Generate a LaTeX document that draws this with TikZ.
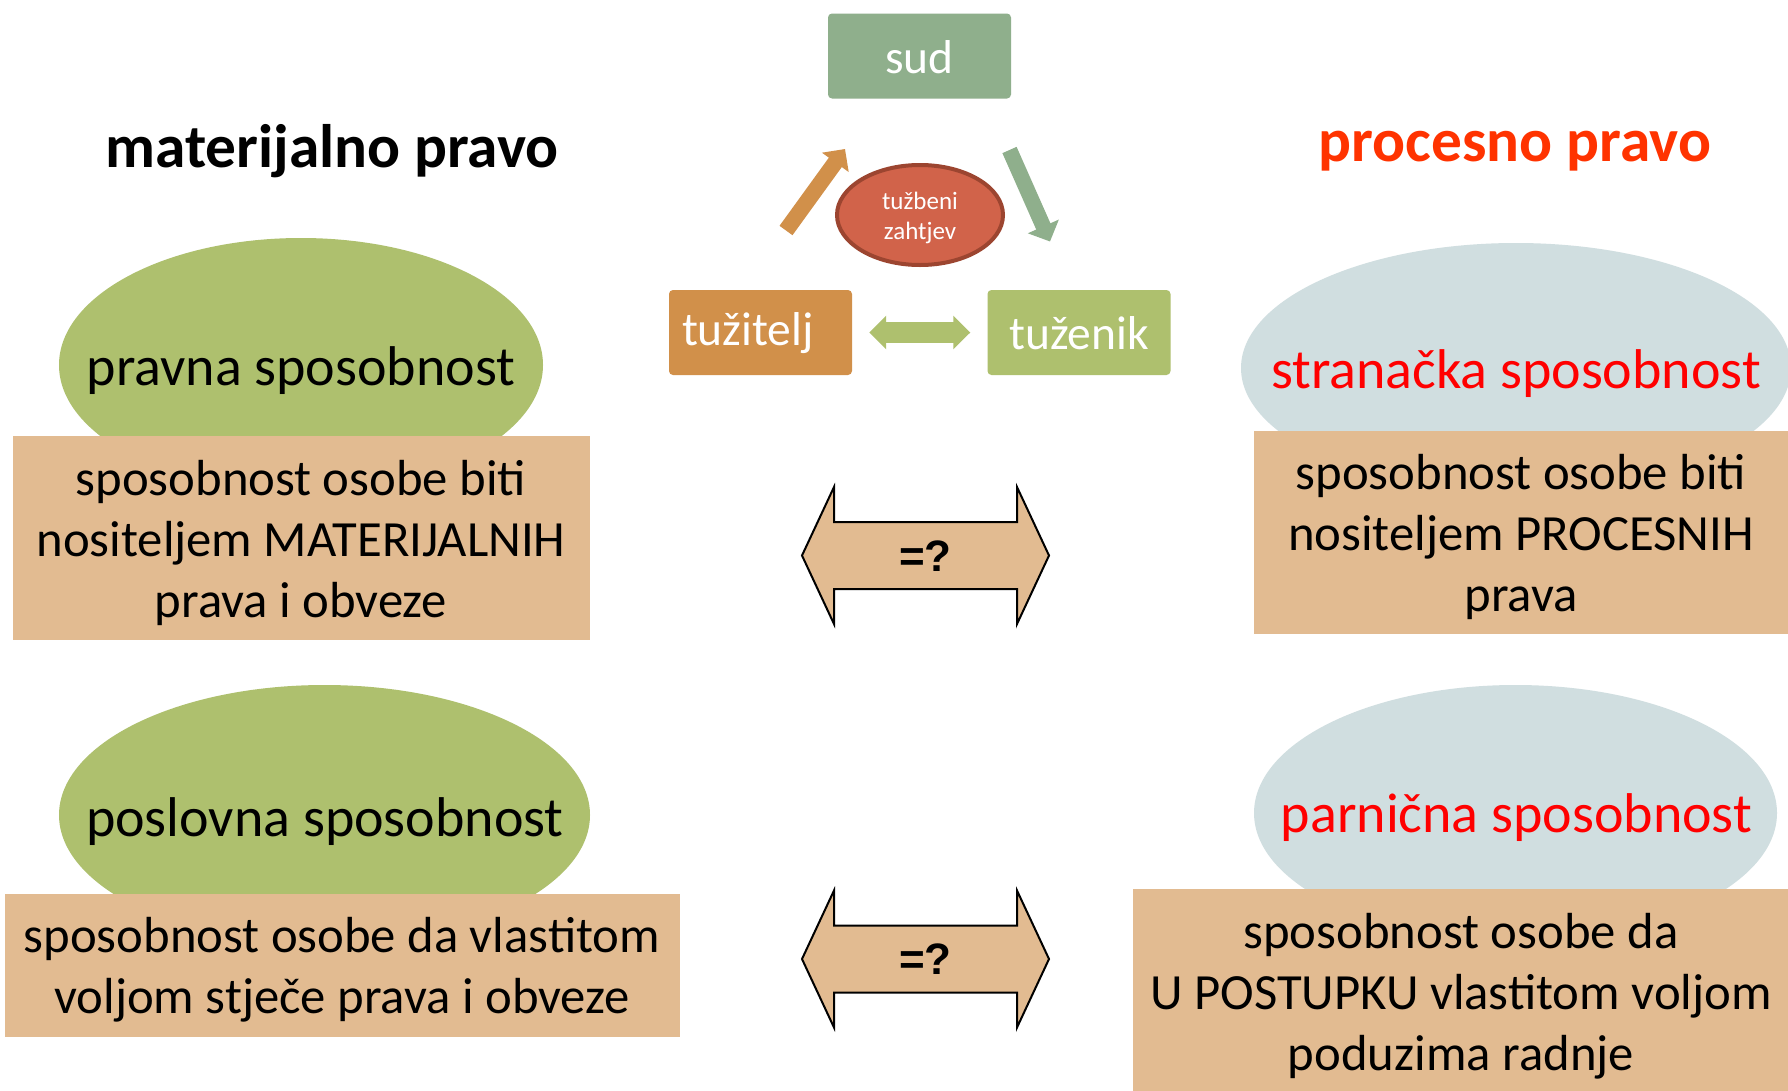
\documentclass[tikz,border=0pt]{standalone}
\usepackage{fontspec}
\setmainfont{Carlito}
\newfontfamily\arialfont{Liberation Sans}
\usetikzlibrary{arrows.meta,shapes.geometric}
\definecolor{cOlive}{HTML}{AEC06E}
\definecolor{cTan}{HTML}{E2BB91}
\definecolor{cBlue}{HTML}{D0DEE0}
\definecolor{cSud}{HTML}{8FAF8C}
\definecolor{cOrange}{HTML}{D1904A}
\definecolor{cRed}{HTML}{D1634A}
\definecolor{cRedBorder}{HTML}{9C4530}
\definecolor{cTitleRed}{HTML}{FF3300}
\definecolor{cTextRed}{HTML}{FF0000}
\tikzset{
  ellshape/.style={ellipse, inner sep=0pt},
  elltext/.style={inner sep=0pt, font=\fontsize{56}{67}\selectfont},
  infobox/.style={rectangle, fill=cTan, inner sep=0pt},
  infotext/.style={inner sep=0pt, align=center, font=\fontsize{50.7}{61}\selectfont},
  partybox/.style={rectangle, rounded corners=4pt, text=white, font=\fontsize{47.5}{56}\selectfont, minimum width=183pt, minimum height=85pt, inner sep=0pt},
  titletext/.style={font=\fontsize{61.4}{73}\selectfont\bfseries},
  eqarr/.style={fill=cTan, draw=black, line width=2pt, line join=miter},
  eqtext/.style={font=\arialfont\bfseries\fontsize{44}{50}\selectfont, inner sep=0pt}
}
\begin{document}
\begin{tikzpicture}[x=1pt,y=-1pt]
\useasboundingbox (0,0) rectangle (1788,1090);
\fill[white] (0,0) rectangle (1788,1090);

% titles
\node[titletext] (mat) at (332,151.5) {materijalno pravo};
\node[titletext, text=cTitleRed] (proc) at (1515,151) {procesno pravo};

% top cycle
\node[partybox, fill=cSud, minimum height=85pt] (sud) at (919.5,56) {};
\node[partybox] (sudT) at (919.5,57) {sud};
\node[partybox, fill=cOrange] (tuz) at (760.5,332.5) {};
\node[partybox, align=left, text width=157pt] (tuzT) at (760.5,333.5) {tužitelj};
\node[partybox, fill=cOlive] (tuzen) at (1079,332.5) {};
\node[partybox] (tuzenT) at (1079,333.5) {tuženik};
\node[ellipse, fill=cRed, draw=cRedBorder, line width=4pt, minimum width=166pt, minimum height=100pt,
      inner sep=0pt] (zaht) at (920,215) {};
\node[inner sep=0pt, text=white, align=center, font=\fontsize{25}{30}\selectfont] (zahtT) at (920,218) {tužbeni\\zahtjev};
\coordinate (oA) at (786,230.5);
\coordinate (oB) at (845,149);
\draw[line width=16pt, cOrange, -{Triangle[width=32pt,length=16.5pt]}] (oA) -- (oB);
\coordinate (gA) at (1009.5,150);
\coordinate (gB) at (1050,241.5);
\draw[line width=15.5pt, cSud, -{Triangle[width=33pt,length=16.5pt]}] (gA) -- (gB);
\draw[line width=20.5pt, cOlive, {Triangle[width=32.5pt,length=17pt]}-{Triangle[width=32.5pt,length=17pt]}]
  ([xshift=17pt]tuz.east) -- ([xshift=-17pt]tuzen.west);

% left column
\node[ellshape, fill=cOlive, minimum width=484pt, minimum height=254pt] (pravna) at (301,365) {};
\node[elltext] (pravnaT) at (301,370.5) {pravna sposobnost};
\node[infobox, minimum width=577pt, minimum height=204pt] (pravnabox) at (301,538) {};
\node[infotext] (pravnaboxT) at (301,542.5) {sposobnost osobe biti\\nositeljem MATERIJALNIH\\prava i obveze};
\node[ellshape, fill=cOlive, minimum width=531pt, minimum height=260pt] (poslovna) at (324.5,815) {};
\node[elltext] (poslovnaT) at (325,821.5) {poslovna sposobnost};
\node[infobox, minimum width=675pt, minimum height=143pt] (poslovnabox) at (342,965.5) {};
\node[infotext] (poslovnaboxT) at (342,970) {sposobnost osobe da vlastitom\\voljom stječe prava i obveze};

% right column
\node[ellshape, fill=cBlue, minimum width=550pt, minimum height=250pt] (strana) at (1516,368) {};
\node[elltext, text=cTextRed] (stranaT) at (1516,373.5) {stranačka sposobnost};
\node[infobox, minimum width=534pt, minimum height=203pt] (stranabox) at (1521,532.5) {};
\node[infotext] (stranaboxT) at (1521,537) {sposobnost osobe biti\\nositeljem PROCESNIH\\prava};
\node[ellshape, fill=cBlue, minimum width=523pt, minimum height=256pt] (parnicna) at (1515.5,813) {};
\node[elltext, text=cTextRed] (parnicnaT) at (1516.5,818) {parnična sposobnost};
\node[infobox, minimum width=655pt, minimum height=206pt] (parnicnabox) at (1460.5,992) {};
\node[infotext] (parnicnaboxT) at (1461,996) {sposobnost osobe da\\U POSTUPKU vlastitom voljom\\poduzima radnje};

% =? arrows
\draw[eqarr] (802,555.5) -- (834,487) -- (834,522) -- (1017,522) -- (1017,487) -- (1049,555.5)
  -- (1017,624) -- (1017,589) -- (834,589) -- (834,624) -- cycle;
\node[eqtext] (eq1) at (925.5,556) {=?};
\draw[eqarr] (802,959) -- (834,890.5) -- (834,925.5) -- (1017,925.5) -- (1017,890.5) -- (1049,959)
  -- (1017,1027.5) -- (1017,992.5) -- (834,992.5) -- (834,1027.5) -- cycle;
\node[eqtext] (eq2) at (925.5,959.5) {=?};
\end{tikzpicture}
\end{document}
